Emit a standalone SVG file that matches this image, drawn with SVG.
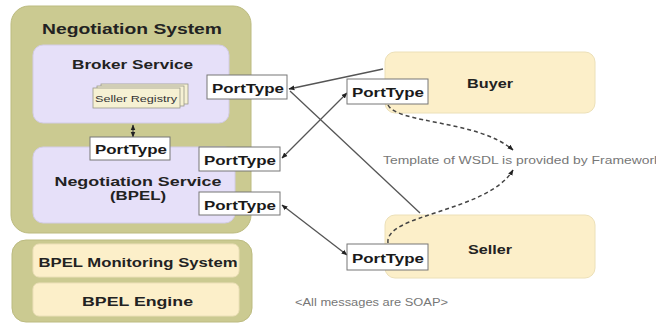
<svg xmlns="http://www.w3.org/2000/svg" width="666" height="325" viewBox="0 0 666 325">
  <defs>
    <style>
      .olive { fill: #cbca91; stroke: #bcbb80; stroke-width: 1; }
      .lav { fill: #e6e0f9; stroke: #d2cce6; stroke-width: 1; }
      .cream { fill: #fcefc9; stroke: #ece0b8; stroke-width: 1; }
      .port { fill: #ffffff; stroke: #777777; stroke-width: 1; }
      .page { fill: #f6f1d3; stroke: #9a9a8a; stroke-width: 0.8; }
      .title { font-family: "Liberation Sans", Arial, sans-serif; font-weight: bold; fill: #222222; text-anchor: middle; }
      .pt { font-family: "Liberation Sans", Arial, sans-serif; font-weight: bold; font-size: 13.5px; fill: #1a1a1a; }
      .note { font-family: "Liberation Sans", Arial, sans-serif; font-size: 10px; fill: #777777; }
      .link { fill: none; stroke: #555555; stroke-width: 1.3; }
      .dash { fill: none; stroke: #444444; stroke-width: 1.5; stroke-dasharray: 4 3; }
    </style>
    <marker id="arrow" viewBox="0 0 10 10" refX="9" refY="5" markerWidth="6" markerHeight="6" orient="auto-start-reverse" markerUnits="userSpaceOnUse">
      <path d="M0,1 L10,5 L0,9 z" fill="#222222"/>
    </marker>
    <clipPath id="noteClip">
      <rect x="0" y="0" width="656" height="325"/>
    </clipPath>
  </defs>

  <!-- Negotiation System container -->
  <g id="negotiation-system">
    <rect class="olive" x="11" y="6" width="240" height="227" rx="18"/>
    <text class="title" x="132" y="34" font-size="14" textLength="180" lengthAdjust="spacingAndGlyphs">Negotiation System</text>
  </g>

  <!-- Broker Service -->
  <g id="broker-service">
    <rect class="lav" x="33" y="45" width="196" height="78" rx="10"/>
    <text class="title" x="132.5" y="69" font-size="12" textLength="121" lengthAdjust="spacingAndGlyphs">Broker Service</text>
  </g>

  <!-- Seller Registry (stacked pages) -->
  <g id="seller-registry">
    <rect class="page" x="101" y="84" width="87" height="20"/>
    <rect class="page" x="97" y="86" width="87" height="20"/>
    <rect class="page" x="93" y="88" width="87" height="20"/>
    <text x="136" y="102" font-family="Liberation Sans, Arial, sans-serif" font-size="9" fill="#333333" text-anchor="middle" textLength="82" lengthAdjust="spacingAndGlyphs">Seller Registry</text>
  </g>

  <!-- Negotiation Service -->
  <g id="negotiation-service">
    <rect class="lav" x="33" y="147" width="202" height="76" rx="10"/>
    <text class="title" x="138" y="186" font-size="13" textLength="167" lengthAdjust="spacingAndGlyphs">Negotiation Service</text>
    <text class="title" x="138" y="200" font-size="13" textLength="56" lengthAdjust="spacingAndGlyphs">(BPEL)</text>
  </g>

  <!-- BPEL runtime -->
  <g id="bpel-runtime">
    <rect class="olive" x="12" y="240" width="240" height="82" rx="14"/>
  </g>
  <g id="bpel-monitoring">
    <rect class="cream" x="33" y="244" width="206" height="33" rx="6"/>
    <text class="title" x="138" y="267" font-size="13" textLength="199" lengthAdjust="spacingAndGlyphs">BPEL Monitoring System</text>
  </g>
  <g id="bpel-engine">
    <rect class="cream" x="33" y="283" width="206" height="33" rx="6"/>
    <text class="title" x="137.5" y="306" font-size="13" textLength="111" lengthAdjust="spacingAndGlyphs">BPEL Engine</text>
  </g>

  <!-- Buyer and Seller -->
  <g id="buyer">
    <rect class="cream" x="385" y="52" width="210" height="61" rx="10"/>
    <text class="title" x="490" y="88" font-size="12.5" textLength="46" lengthAdjust="spacingAndGlyphs">Buyer</text>
  </g>
  <g id="seller">
    <rect class="cream" x="385" y="215" width="210" height="63" rx="10"/>
    <text class="title" x="490" y="254" font-size="12.5" textLength="44" lengthAdjust="spacingAndGlyphs">Seller</text>
  </g>

  <!-- Connectors -->
  <g id="connectors">
    <line class="link" x1="133" y1="125" x2="133" y2="137" marker-start="url(#arrow)" marker-end="url(#arrow)"/>
    <line class="link" x1="383" y1="69" x2="289" y2="89" marker-end="url(#arrow)"/>
    <line class="link" x1="420" y1="213" x2="290" y2="91"/>
    <line class="link" x1="282" y1="158" x2="347" y2="93" marker-start="url(#arrow)" marker-end="url(#arrow)"/>
    <line class="link" x1="282" y1="205" x2="347" y2="255" marker-start="url(#arrow)" marker-end="url(#arrow)"/>
    <path class="dash" d="M388,105 C398,124 478,120 513,150" marker-end="url(#arrow)"/>
    <path class="dash" d="M388,243 C384,214 488,212 513,170" marker-end="url(#arrow)"/>
  </g>

  <!-- Port types -->
  <g id="port-broker">
    <rect class="port" x="207" y="75" width="80" height="24"/>
    <text class="pt" x="212" y="93" textLength="72" lengthAdjust="spacingAndGlyphs">PortType</text>
  </g>
  <g id="port-internal">
    <rect class="port" x="90" y="137" width="80" height="23"/>
    <text class="pt" x="95" y="154" textLength="72" lengthAdjust="spacingAndGlyphs">PortType</text>
  </g>
  <g id="port-negotiation-buyer">
    <rect class="port" x="199" y="147" width="81" height="24"/>
    <text class="pt" x="204" y="165" textLength="72" lengthAdjust="spacingAndGlyphs">PortType</text>
  </g>
  <g id="port-negotiation-seller">
    <rect class="port" x="199" y="192" width="81" height="23"/>
    <text class="pt" x="204" y="210" textLength="72" lengthAdjust="spacingAndGlyphs">PortType</text>
  </g>
  <g id="port-buyer">
    <rect class="port" x="347" y="79" width="81" height="25"/>
    <text class="pt" x="352" y="97" textLength="72" lengthAdjust="spacingAndGlyphs">PortType</text>
  </g>
  <g id="port-seller">
    <rect class="port" x="347" y="244" width="81" height="26"/>
    <text class="pt" x="352" y="263" textLength="72" lengthAdjust="spacingAndGlyphs">PortType</text>
  </g>

  <!-- Notes -->
  <g id="notes">
    <text class="note" x="383" y="164" textLength="278" lengthAdjust="spacingAndGlyphs" clip-path="url(#noteClip)">Template of WSDL is provided by Framework</text>
    <text class="note" x="295" y="306" textLength="153" lengthAdjust="spacingAndGlyphs">&lt;All messages are SOAP&gt;</text>
  </g>
</svg>
